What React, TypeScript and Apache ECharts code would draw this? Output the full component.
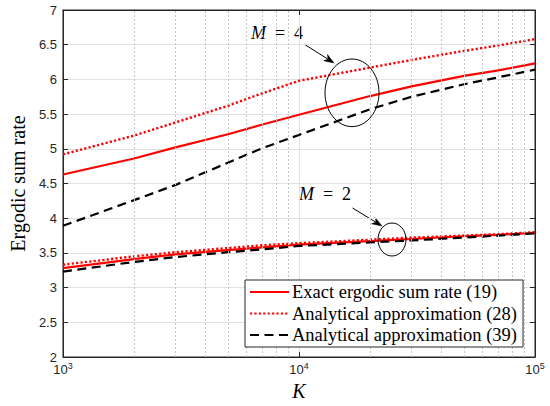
import React, { useEffect, useRef } from 'react';
import * as echarts from 'echarts';

// ---- data ----
const K = [1000, 2000, 3000, 5000, 7000, 10000, 20000, 30000, 50000, 70000, 100000];
const exactM4 = [4.63, 4.86, 5.02, 5.21, 5.35, 5.49, 5.76, 5.9, 6.05, 6.13, 6.23];
const approx28M4 = [4.92, 5.19, 5.38, 5.62, 5.8, 5.98, 6.17, 6.28, 6.41, 6.49, 6.58];
const approx39M4 = [3.89, 4.26, 4.48, 4.8, 5.01, 5.2, 5.57, 5.75, 5.93, 6.03, 6.14];
const exactM2 = [3.28, 3.41, 3.48, 3.54, 3.58, 3.62, 3.67, 3.7, 3.74, 3.76, 3.79];
const approx28M2 = [3.33, 3.45, 3.51, 3.57, 3.61, 3.64, 3.69, 3.72, 3.75, 3.77, 3.8];
const approx39M2 = [3.23, 3.37, 3.44, 3.51, 3.55, 3.6, 3.65, 3.68, 3.72, 3.75, 3.78];
const minorK = [2000, 3000, 4000, 5000, 6000, 7000, 8000, 9000, 20000, 30000, 40000, 50000, 60000, 70000, 80000, 90000];
const legendNames = ['Exact ergodic sum rate (19)', 'Analytical approximation (28)', 'Analytical approximation (39)'];
const yMin = 2;
const yMax = 7;
const yStep = 0.5;
const xMin = 1000;
const xMax = 100000;

const SERIF = '"Liberation Serif", "Times New Roman", serif';
const SANS = '"Liberation Sans", Arial, Helvetica, sans-serif';
const AX = '#262626';

const pts = (ys: number[]) => K.map((k, i) => [k, ys[i]]);

function arrow(x1: number, y1: number, x2: number, y2: number) {
  const dx = x2 - x1;
  const dy = y2 - y1;
  const len = Math.sqrt(dx * dx + dy * dy);
  const ux = dx / len;
  const uy = dy / len;
  const hl = 10;
  const hw = 3.6;
  const bx = x2 - ux * hl;
  const by = y2 - uy * hl;
  const nx = x2 - ux * (hl * 0.7);
  const ny = y2 - uy * (hl * 0.7);
  return [
    { type: 'line', shape: { x1, y1, x2: bx + ux * 3, y2: by + uy * 3 }, style: { stroke: '#000', lineWidth: 1 } },
    {
      type: 'polygon',
      shape: { points: [[x2, y2], [bx - uy * hw, by + ux * hw], [nx, ny], [bx + uy * hw, by - ux * hw]] },
      style: { fill: '#000', stroke: '#000', lineWidth: 0.5 },
    },
  ];
}

function mathLabel(x: number, y: number, v: string) {
  const base = { fill: '#000', verticalAlign: 'middle', textVerticalAlign: 'middle', align: 'left', textAlign: 'left' };
  return [
    { type: 'text', style: { ...base, x, y, text: 'M', font: `italic 18px ${SERIF}` } },
    { type: 'text', style: { ...base, x: x + 24, y, text: '=', font: `18px ${SERIF}` } },
    { type: 'text', style: { ...base, x: x + 43, y, text: v, font: `18px ${SERIF}` } },
  ];
}

export default function App() {
  const ref = useRef<HTMLDivElement>(null);
  useEffect(() => {
    if (!ref.current) return;
    const chart = echarts.init(ref.current, undefined, { renderer: 'svg' });
    const tickLabel = { fontFamily: SANS, fontSize: 13, color: AX };
    const lineCommon = { type: 'line', showSymbol: false, symbol: 'none', z: 3 };
    const solid = { color: '#ff0000', width: 2.2, type: 'solid' };
    const dotted = { color: '#ff0000', width: 2.4, type: [2.2, 2.2], cap: 'butt' };
    const dashed = { color: '#000000', width: 2.2, type: [9, 5.5], cap: 'butt' };
    const option: any = {
      animation: false,
      backgroundColor: '#fff',
      grid: { left: 54, right: 15, top: 10, bottom: 48, show: true, backgroundColor: '#fff', borderColor: AX, borderWidth: 1 },
      legend: {
        data: legendNames,
        orient: 'vertical',
        left: 245,
        top: 280,
        backgroundColor: '#fff',
        borderColor: AX,
        borderWidth: 1,
        borderRadius: 0,
        padding: [2, 6, 2, 4],
        itemWidth: 39,
        itemHeight: 14,
        itemGap: 1.5,
        itemStyle: { opacity: 0 },
        textStyle: { fontFamily: SERIF, fontSize: 18.5, color: '#000', lineHeight: 20, padding: [0, 0, 0, -2] },
        z: 10,
      },
      xAxis: [
        {
          type: 'log',
          logBase: 10,
          min: xMin,
          max: xMax,
          position: 'bottom',
          axisLine: { show: true, lineStyle: { color: AX, width: 1 } },
          axisTick: { show: true, inside: true, length: 5, lineStyle: { color: AX } },
          axisLabel: {
            margin: 5,
            formatter: (v: number) => `{b|10}{s|${Math.round(Math.log10(v))}}`,
            rich: {
              b: { ...tickLabel, fontSize: 13, lineHeight: 14, verticalAlign: 'bottom' },
              s: { ...tickLabel, fontSize: 9, lineHeight: 10, verticalAlign: 'bottom', padding: [0, 0, 6, 0] },
            },
          },
          splitLine: { show: true, lineStyle: { color: '#e2e2e2', width: 1 } },
          name: 'K',
          nameLocation: 'middle',
          nameGap: 24,
          nameTextStyle: { fontFamily: SERIF, fontStyle: 'italic', fontSize: 20, color: '#000' },
        },
        {
          type: 'log',
          logBase: 10,
          min: xMin,
          max: xMax,
          position: 'top',
          axisLine: { show: true, lineStyle: { color: AX, width: 1 } },
          axisTick: { show: true, inside: true, length: 5, lineStyle: { color: AX } },
          axisLabel: { show: false },
          splitLine: { show: false },
        },
      ],
      yAxis: [
        {
          type: 'value',
          min: yMin,
          max: yMax,
          interval: yStep,
          position: 'left',
          axisLine: { show: true, lineStyle: { color: AX, width: 1 } },
          axisTick: { show: true, inside: true, length: 5, lineStyle: { color: AX } },
          axisLabel: { ...tickLabel, margin: 6 },
          splitLine: { show: true, lineStyle: { color: '#e2e2e2', width: 1 } },
          name: 'Ergodic sum rate',
          nameLocation: 'middle',
          nameGap: 30,
          nameTextStyle: { fontFamily: SERIF, fontSize: 20, color: '#000' },
        },
        {
          type: 'value',
          min: yMin,
          max: yMax,
          interval: yStep,
          position: 'right',
          axisLine: { show: true, lineStyle: { color: AX, width: 1 } },
          axisTick: { show: true, inside: true, length: 5, lineStyle: { color: AX } },
          axisLabel: { show: false },
          splitLine: { show: false },
        },
      ],
      series: [
        {
          type: 'line',
          name: 'minor-grid',
          data: [],
          z: 1,
          silent: true,
          markLine: {
            silent: true,
            symbol: ['none', 'none'],
            label: { show: false },
            lineStyle: { color: '#c4c4c4', type: [2, 2], width: 1 },
            emphasis: { disabled: true },
            data: minorK.map((v) => ({ xAxis: v })),
          },
        },
        { ...lineCommon, name: legendNames[0], data: pts(exactM4), lineStyle: solid, itemStyle: { color: solid.color } },
        { ...lineCommon, name: legendNames[0], data: pts(exactM2), lineStyle: solid, itemStyle: { color: solid.color } },
        { ...lineCommon, name: legendNames[1], data: pts(approx28M4), lineStyle: dotted, itemStyle: { color: dotted.color } },
        { ...lineCommon, name: legendNames[1], data: pts(approx28M2), lineStyle: dotted, itemStyle: { color: dotted.color } },
        { ...lineCommon, name: legendNames[2], data: pts(approx39M4), lineStyle: dashed, itemStyle: { color: dashed.color } },
        { ...lineCommon, name: legendNames[2], data: pts(approx39M2), lineStyle: dashed, itemStyle: { color: dashed.color } },
      ],
      graphic: [
        ...mathLabel(251, 32.5, '4'),
        ...arrow(304, 44, 334, 63),
        { type: 'ellipse', shape: { cx: 352, cy: 92.8, rx: 27, ry: 33.8 }, style: { fill: 'none', stroke: '#000', lineWidth: 1 }, z: 20 },
        ...mathLabel(299, 194, '2'),
        ...arrow(352.5, 208, 382, 226),
        { type: 'ellipse', shape: { cx: 392, cy: 239.5, rx: 14, ry: 16.5 }, style: { fill: 'none', stroke: '#000', lineWidth: 1 }, z: 20 },
      ],
    };
    chart.setOption(option);
    return () => chart.dispose();
  }, []);
  return <div ref={ref} style={{ position: 'fixed', left: 0, top: 0, width: 550, height: 406 }} />;
}
